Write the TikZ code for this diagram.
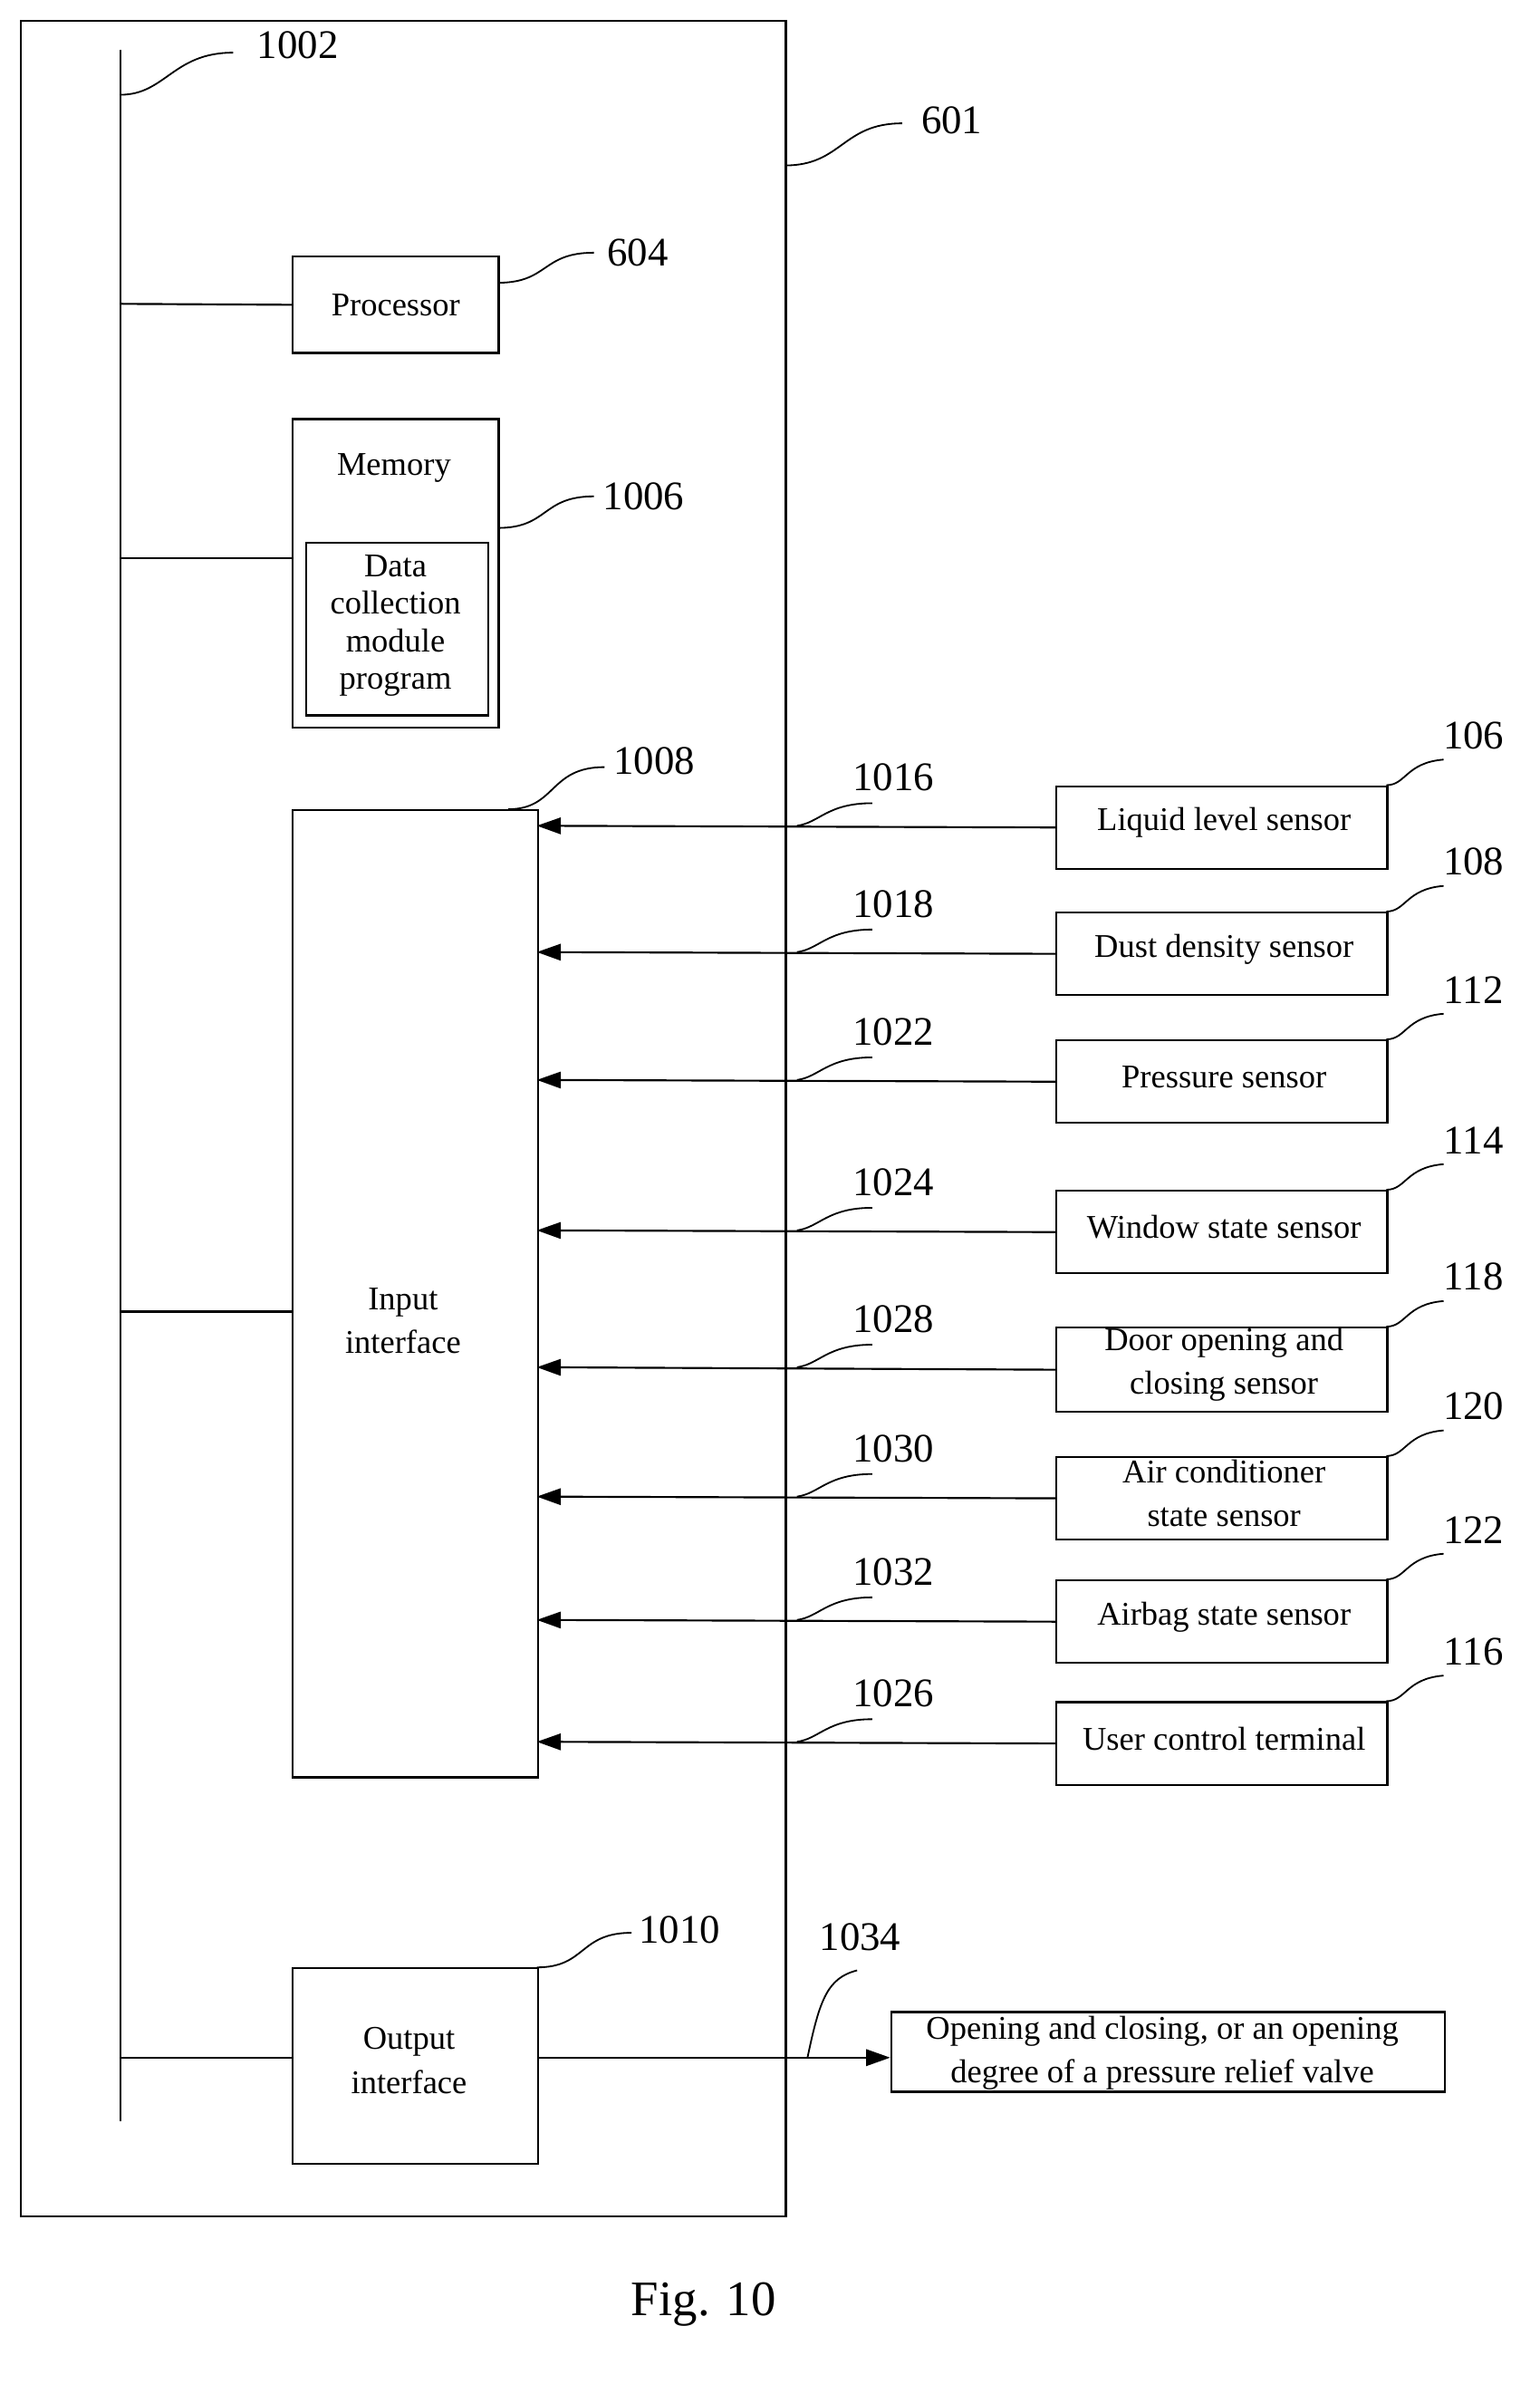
\documentclass[tikz,border=0pt]{standalone}
\usepackage{fontspec}
\setmainfont{Liberation Serif}
\usetikzlibrary{arrows.meta}
\begin{document}
\begin{tikzpicture}[x=1pt,y=-1pt,line width=1.3pt,
  box/.style={draw,rectangle,inner sep=0pt,anchor=north west,font=\fontsize{22}{25}\selectfont,align=center},
  lab/.style={font=\fontsize{27}{30}\selectfont,inner sep=0pt},
  arr/.style={-{Triangle[length=16pt,width=11pt]}},
  lead/.style={line width=1.1pt}]
\useasboundingbox (0,0) rectangle (1024,1585);
\node[draw,rectangle,minimum width=509pt,minimum height=1460pt,anchor=north west,inner sep=0pt] (outer) at (13,13) {};
\coordinate (bt) at (80,33); \coordinate (bb) at (80,1410);
\draw (bt) -- (bb);
\node[lab] (l1002) at (198,30) {1002};
\draw[lead] (80,63) .. controls (110,63) and (115,35) .. (155,35);
\node[lab] (l601) at (633,80) {601};
\draw[lead] (522,110) .. controls (560,110) and (560,82) .. (600,82);
% processor
\node[box,minimum width=137pt,minimum height=64pt] (proc) at (194,170) {Processor};
\draw (80,202) -- (proc.west);
\node[lab] (l604) at (424,168) {604};
\draw[lead] (331,188) .. controls (365,188) and (360,168) .. (395,168);
% memory
\node[box,minimum width=137pt,minimum height=205pt] (mem) at (194,278) {};
\node[font=\fontsize{22}{25}\selectfont] (memt) at (262,311) {Memory};
\node[box,minimum width=121pt,minimum height=115pt,font=\fontsize{22}{25}\selectfont] (dc) at (203,360) {};
\node[align=center,font=\fontsize{22}{25}\selectfont] (dct) at (263,416) {Data\\collection\\module\\program};
\draw (80,371) -- (194,371);
\node[lab] (l1006) at (428,330) {1006};
\draw[lead] (331,351) .. controls (365,351) and (360,330) .. (395,330);
% input
\node[box,minimum width=163pt,minimum height=643pt] (in) at (194,538) {};
\node[align=center,font=\fontsize{22}{29}\selectfont] (int) at (268,878) {Input\\interface};
\draw (80,872) -- (194,872);
\node[lab] (l1008) at (435,506) {1008};
\draw[lead] (338,538) .. controls (370,538) and (365,510) .. (402,510);
% output
\node[box,minimum width=163pt,minimum height=130pt] (out) at (194,1308) {};
\node[align=center,font=\fontsize{22}{29}\selectfont] (outt) at (272,1370) {Output\\interface};
\draw (80,1368) -- (194,1368);
\node[lab] (l1010) at (452,1283) {1010};
\draw[lead] (357,1308) .. controls (390,1308) and (385,1285) .. (420,1285);
\node[box,minimum width=368pt,minimum height=53pt] (valve) at (592,1337) {};
\node[align=center,font=\fontsize{22}{29}\selectfont] (valvet) at (773,1365) {Opening and closing, or an opening\\degree of a pressure relief valve};
\draw[arr] (357,1368) -- (592,1368);
\node[lab] (l1034) at (572,1288) {1034};
\draw[lead] (537,1368) .. controls (545,1330) and (550,1315) .. (570,1310);
% sensors
\foreach \n/\y/\t/\h/\w/\lw [count=\i] in {
 106/549/{Liquid level sensor}/55/1016/220,
 108/633/{Dust density sensor}/55/1018/220,
 112/718/{Pressure sensor}/55/1022/220,
 114/818/{Window state sensor}/55/1024/220,
 118/909/{Door opening and\\closing sensor}/56/1028/220,
 120/995/{Air conditioner\\state sensor}/55/1030/220,
 122/1077/{Airbag state sensor}/55/1032/220,
 116/1158/{User control terminal}/55/1026/220}{
  \node[draw,rectangle,minimum width=220pt,minimum height=\h pt,inner sep=0pt,anchor=north west] (s\i) at (702,\y-27) {};
  \node[align=center,font=\fontsize{22}{29}\selectfont] (st\i) at (814,\y-2) {\t};
  \draw[arr] (s\i.west) -- (357,\y);
  \node[lab] (n\i) at (980,\y-60) {\n};
  \draw[lead] (922,\y-27) .. controls (935,\y-27) and (935,\y-42) .. (960,\y-44);
  \node[lab] (w\i) at (594,\y-32) {\w};
  \draw[lead] (530,\y) .. controls (545,\y-2) and (550,\y-15) .. (580,\y-15);
}
\node[font=\fontsize{33}{36}\selectfont] (fig) at (468,1532) {Fig. 10};
\end{tikzpicture}
\end{document}
